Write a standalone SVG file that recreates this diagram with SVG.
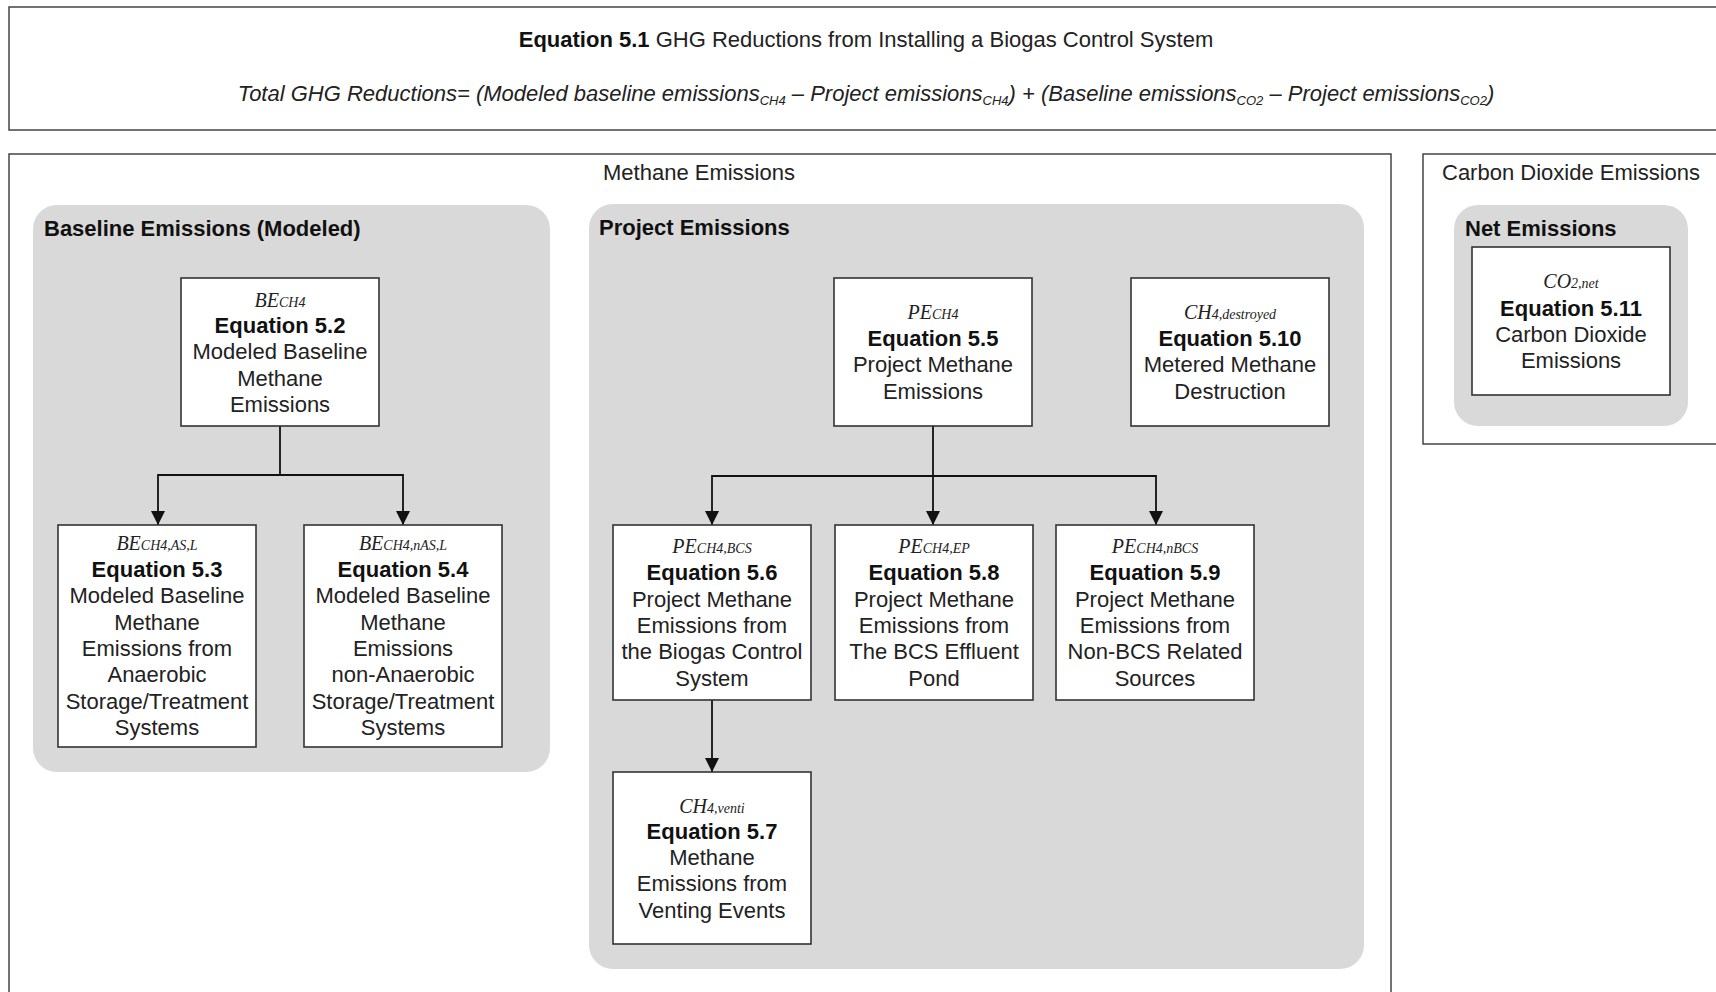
<svg xmlns="http://www.w3.org/2000/svg" width="1716" height="992" viewBox="0 0 1716 992">
<defs>
<style>
.frame{fill:#fff;stroke:#444;stroke-width:1.5}
.panel{fill:#d9d9d9;stroke:none}
.node rect{fill:#fff;stroke:#333;stroke-width:1.6}
.t{font-family:"Liberation Sans",Arial,sans-serif;font-size:22px;fill:#222;text-anchor:middle}
.b{font-weight:bold;fill:#111}
.sym{font-family:"Liberation Serif","Times New Roman",serif;font-style:italic;font-size:20px}
.sub{font-size:14px}
.hdr{font-family:"Liberation Sans",Arial,sans-serif;font-size:22px;fill:#222}
.ph{font-family:"Liberation Sans",Arial,sans-serif;font-size:22px;font-weight:bold;fill:#111}
.conn{fill:none;stroke:#111;stroke-width:1.8}
</style>
<marker id="arr" viewBox="0 0 10 10" refX="10" refY="5" markerWidth="14" markerHeight="14" markerUnits="userSpaceOnUse" orient="auto">
<path d="M0,0 L10,5 L0,10 z" fill="#111"/>
</marker>
</defs>
<rect width="1716" height="992" fill="#fff"/>

<g id="header">
<rect class="frame" x="9" y="7" width="1720" height="123"/>
<text class="hdr" x="866" y="47" text-anchor="middle" font-size="20"><tspan font-weight="bold" fill="#111">Equation 5.1</tspan> GHG Reductions from Installing a Biogas Control System</text>
<text class="hdr" x="866" y="101" text-anchor="middle" font-size="20" font-style="italic">Total GHG Reductions= (Modeled baseline emissions<tspan font-size="13" dy="4">CH4</tspan><tspan dy="-4"> – Project emissions</tspan><tspan font-size="13" dy="4">CH4</tspan><tspan dy="-4">) + (Baseline emissions</tspan><tspan font-size="13" dy="4">CO2</tspan><tspan dy="-4"> – Project emissions</tspan><tspan font-size="13" dy="4">CO2</tspan><tspan dy="-4">)</tspan></text>
</g>

<g id="methane-frame">
<rect class="frame" x="9" y="154" width="1382" height="850"/>
<text class="hdr" x="699" y="180" text-anchor="middle">Methane Emissions</text>
</g>
<g id="co2-frame">
<rect class="frame" x="1423" y="154" width="300" height="290"/>
<text class="hdr" x="1571" y="180" text-anchor="middle">Carbon Dioxide Emissions</text>
</g>

<g id="baseline-panel">
<rect class="panel" x="33" y="205" width="517" height="567" rx="24"/>
<text class="ph" x="44" y="236">Baseline Emissions (Modeled)</text>
</g>
<g id="project-panel">
<rect class="panel" x="589" y="204" width="775" height="765" rx="24"/>
<text class="ph" x="599" y="235">Project Emissions</text>
</g>
<g id="net-panel">
<rect class="panel" x="1454" y="205" width="234" height="221" rx="24"/>
<text class="ph" x="1465" y="236">Net Emissions</text>
</g>

<g id="connectors">
<path class="conn" d="M280,426 V475 H158 V525" marker-end="url(#arr)"/>
<path class="conn" d="M280,475 H403 V525" marker-end="url(#arr)"/>
<path class="conn" d="M933,426 V476 H712 V525" marker-end="url(#arr)"/>
<path class="conn" d="M933,476 V525" marker-end="url(#arr)"/>
<path class="conn" d="M933,476 H1156 V525" marker-end="url(#arr)"/>
<path class="conn" d="M712,700 V772" marker-end="url(#arr)"/>
</g>

<g id="eq52" class="node">
<rect x="181" y="278" width="198" height="148"/>
<text class="t" x="280" y="307"><tspan class="sym">BE<tspan class="sub">CH4</tspan></tspan></text>
<text class="t" x="280"><tspan class="b" x="280" y="333">Equation 5.2</tspan><tspan x="280" y="359">Modeled Baseline</tspan><tspan x="280" y="386">Methane</tspan><tspan x="280" y="412">Emissions</tspan></text>
</g>

<g id="eq53" class="node">
<rect x="58" y="525" width="198" height="222"/>
<text class="t" x="157" y="550"><tspan class="sym">BE<tspan class="sub">CH4,AS,L</tspan></tspan></text>
<text class="t"><tspan class="b" x="157" y="577">Equation 5.3</tspan><tspan x="157" y="603">Modeled Baseline</tspan><tspan x="157" y="630">Methane</tspan><tspan x="157" y="656">Emissions from</tspan><tspan x="157" y="682">Anaerobic</tspan><tspan x="157" y="709">Storage/Treatment</tspan><tspan x="157" y="735">Systems</tspan></text>
</g>

<g id="eq54" class="node">
<rect x="304" y="525" width="198" height="222"/>
<text class="t" x="403" y="550"><tspan class="sym">BE<tspan class="sub">CH4,nAS,L</tspan></tspan></text>
<text class="t"><tspan class="b" x="403" y="577">Equation 5.4</tspan><tspan x="403" y="603">Modeled Baseline</tspan><tspan x="403" y="630">Methane</tspan><tspan x="403" y="656">Emissions</tspan><tspan x="403" y="682">non-Anaerobic</tspan><tspan x="403" y="709">Storage/Treatment</tspan><tspan x="403" y="735">Systems</tspan></text>
</g>

<g id="eq55" class="node">
<rect x="834" y="278" width="198" height="148"/>
<text class="t" x="933" y="319"><tspan class="sym">PE<tspan class="sub">CH4</tspan></tspan></text>
<text class="t"><tspan class="b" x="933" y="346">Equation 5.5</tspan><tspan x="933" y="372">Project Methane</tspan><tspan x="933" y="399">Emissions</tspan></text>
</g>

<g id="eq510" class="node">
<rect x="1131" y="278" width="198" height="148"/>
<text class="t" x="1230" y="319"><tspan class="sym">CH<tspan class="sub">4,destroyed</tspan></tspan></text>
<text class="t"><tspan class="b" x="1230" y="346">Equation 5.10</tspan><tspan x="1230" y="372">Metered Methane</tspan><tspan x="1230" y="399">Destruction</tspan></text>
</g>

<g id="eq56" class="node">
<rect x="613" y="525" width="198" height="175"/>
<text class="t" x="712" y="553"><tspan class="sym">PE<tspan class="sub">CH4,BCS</tspan></tspan></text>
<text class="t"><tspan class="b" x="712" y="580">Equation 5.6</tspan><tspan x="712" y="607">Project Methane</tspan><tspan x="712" y="633">Emissions from</tspan><tspan x="712" y="659">the Biogas Control</tspan><tspan x="712" y="686">System</tspan></text>
</g>

<g id="eq58" class="node">
<rect x="835" y="525" width="198" height="175"/>
<text class="t" x="934" y="553"><tspan class="sym">PE<tspan class="sub">CH4,EP</tspan></tspan></text>
<text class="t"><tspan class="b" x="934" y="580">Equation 5.8</tspan><tspan x="934" y="607">Project Methane</tspan><tspan x="934" y="633">Emissions from</tspan><tspan x="934" y="659">The BCS Effluent</tspan><tspan x="934" y="686">Pond</tspan></text>
</g>

<g id="eq59" class="node">
<rect x="1056" y="525" width="198" height="175"/>
<text class="t" x="1155" y="553"><tspan class="sym">PE<tspan class="sub">CH4,nBCS</tspan></tspan></text>
<text class="t"><tspan class="b" x="1155" y="580">Equation 5.9</tspan><tspan x="1155" y="607">Project Methane</tspan><tspan x="1155" y="633">Emissions from</tspan><tspan x="1155" y="659">Non-BCS Related</tspan><tspan x="1155" y="686">Sources</tspan></text>
</g>

<g id="eq57" class="node">
<rect x="613" y="772" width="198" height="172"/>
<text class="t" x="712" y="813"><tspan class="sym">CH<tspan class="sub">4,venti</tspan></tspan></text>
<text class="t"><tspan class="b" x="712" y="839">Equation 5.7</tspan><tspan x="712" y="865">Methane</tspan><tspan x="712" y="891">Emissions from</tspan><tspan x="712" y="918">Venting Events</tspan></text>
</g>

<g id="eq511" class="node">
<rect x="1472" y="247" width="198" height="148"/>
<text class="t" x="1571" y="288"><tspan class="sym">CO<tspan class="sub">2,net</tspan></tspan></text>
<text class="t"><tspan class="b" x="1571" y="316">Equation 5.11</tspan><tspan x="1571" y="342">Carbon Dioxide</tspan><tspan x="1571" y="368">Emissions</tspan></text>
</g>
</svg>
